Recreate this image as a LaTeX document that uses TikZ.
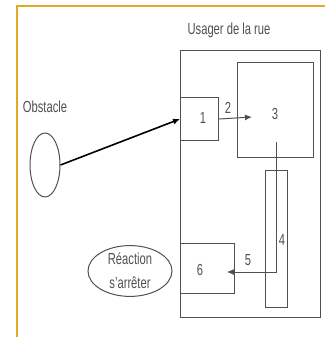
\documentclass[tikz,border=0pt]{standalone}
\usepackage{fontspec}
\setmainfont{Liberation Sans}[FakeStretch=0.7]
\usepackage{xcolor}
\usetikzlibrary{arrows.meta,shapes.geometric}
\definecolor{framegold}{HTML}{E6A823}
\definecolor{linegray}{HTML}{505050}

\begin{document}
\begin{tikzpicture}[x=1pt,y=-1pt,
  box/.style={draw=linegray, line width=1pt, inner sep=0pt, anchor=north west},
  lbl/.style={font=\fontsize{16}{17}\selectfont, text=linegray, inner sep=0pt}]
\useasboundingbox (0,0) rectangle (325,337);
% frame of the figure
\draw[framegold, line width=2pt] (17,337) -- (17,6) -- (325,6);

% the road user and its stages
\node[lbl] (title) at (229,30) {Usager de la rue};
\node[box, minimum width=140pt, minimum height=267pt] (usager) at (180,50) {};
\node[box, minimum width=38pt, minimum height=43pt] (b1) at (180,97) {};
\node[lbl] (n1) at (203,118) {1};
\node[box, minimum width=76pt, minimum height=95pt] (b3) at (237,62) {};
\node[lbl] (n3) at (275,114) {3};
\node[box, minimum width=22pt, minimum height=137pt] (b4) at (265,170) {};
\node[lbl] (n4) at (282,240) {4};
\node[box, minimum width=54pt, minimum height=50pt] (b6) at (180,243) {};
\node[lbl] (n6) at (200,270) {6};

% obstacle and reaction
\node[lbl] (obslbl) at (45,107) {Obstacle};
\node[draw=linegray, line width=1pt, ellipse, minimum width=30pt, minimum height=64pt] (obs) at (45,165) {};
\node[draw=linegray, line width=1pt, ellipse, minimum width=84pt, minimum height=48pt, align=center, lbl] (reac) at (130,271) {Réaction\\[7pt]s'arrêter};

% connections
\coordinate (t2) at (252,117);
\coordinate (s5) at (276,142);
\coordinate (t5) at (227,272);
\draw[line width=1.6pt, -{Latex[length=7pt,width=6pt]}] (obs.east) -- (b1.west);
\draw[linegray, line width=1pt, -{Latex[length=7pt,width=6pt]}] (b1.east) -- (t2);
\node[lbl] (n2) at (228,108) {2};
\draw[linegray, line width=1pt, -{Latex[length=7pt,width=6pt]}] (s5) |- (t5);
\node[lbl] (n5) at (248,260) {5};
\end{tikzpicture}
\end{document}
